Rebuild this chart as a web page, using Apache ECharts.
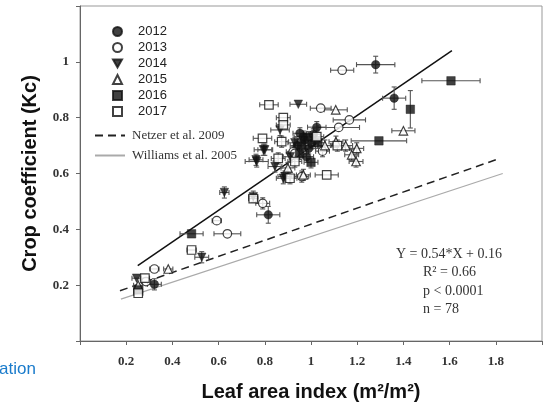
<!DOCTYPE html>
<html><head><meta charset="utf-8">
<script src="https://cdn.jsdelivr.net/npm/echarts@6/dist/echarts.min.js"></script>
<style>html,body{margin:0;padding:0;background:#fff}#c{width:546px;height:408px}</style>
</head><body><div id="c"></div>
<script>
// ---- data: [LAI, Kc, LAI error, Kc error] ----
const years = ['2012', '2013', '2014', '2015', '2016', '2017'];
const pts2012 = [[1.28,0.99,0.083,0.03],[1.36,0.87,0.05,0.04],[1.025,0.766,0.04,0.02],[0.815,0.452,0.05,0.03],[0.322,0.203,0.03,0.02],[0.967,0.732,0.04,0.02],[1.003,0.708,0.03,0.02],[0.952,0.744,0.03,0.02],[0.981,0.66,0.03,0.02],[0.99,0.69,0.03,0.02],[0.94,0.70,0.03,0.02],[0.97,0.72,0.03,0.02],[1.01,0.74,0.03,0.02]];
const pts2013 = [[1.135,0.97,0.05,0.01],[1.166,0.792,0.07,0.01],[1.12,0.765,0.09,0.01],[1.042,0.834,0.045,0.01],[0.592,0.431,0.02,0.01],[0.638,0.384,0.058,0.01],[0.791,0.493,0.03,0.02],[0.322,0.258,0.02,0.01],[0.286,0.213,0.02,0.01],[0.923,0.678,0.03,0.02],[0.96,0.589,0.03,0.02],[0.93,0.672,0.03,0.02],[1.05,0.68,0.03,0.02]];
const pts2014 = [[0.945,0.848,0.036,0.01],[0.625,0.532,0.02,0.02],[0.75,0.517,0.02,0.02],[0.762,0.649,0.03,0.02],[0.527,0.30,0.03,0.02],[0.245,0.225,0.02,0.01],[0.794,0.685,0.04,0.02],[0.765,0.643,0.05,0.02],[0.844,0.625,0.03,0.02],[0.88,0.583,0.03,0.02],[0.866,0.756,0.04,0.02],[0.80,0.685,0.03,0.02],[0.887,0.589,0.03,0.02],[0.93,0.71,0.03,0.02],[0.91,0.66,0.03,0.02]];
const pts2015 = [[1.40,0.753,0.05,0.01],[1.107,0.828,0.05,0.01],[1.198,0.69,0.03,0.02],[1.176,0.667,0.03,0.02],[1.195,0.643,0.03,0.02],[1.108,0.714,0.03,0.02],[0.382,0.258,0.02,0.01],[0.252,0.20,0.02,0.01],[0.967,0.595,0.03,0.02],[1.06,0.70,0.03,0.02],[1.15,0.70,0.03,0.02],[0.90,0.62,0.03,0.02]];
const pts2016 = [[1.606,0.932,0.126,0.01],[1.43,0.83,0.01,0.067],[1.294,0.717,0.12,0.01],[0.483,0.384,0.05,0.01],[0.252,0.183,0.02,0.01],[0.99,0.73,0.03,0.02],[0.96,0.70,0.03,0.02],[1.00,0.64,0.03,0.02],[0.95,0.67,0.03,0.02],[1.03,0.71,0.03,0.02]];
const pts2017 = [[0.818,0.846,0.04,0.01],[0.88,0.80,0.03,0.01],[0.88,0.774,0.03,0.01],[0.79,0.726,0.04,0.01],[1.068,0.595,0.05,0.01],[0.483,0.326,0.02,0.01],[0.281,0.225,0.02,0.01],[0.252,0.171,0.02,0.01],[0.858,0.654,0.03,0.02],[0.93,0.643,0.03,0.02],[0.909,0.583,0.03,0.02],[1.025,0.732,0.03,0.02],[1.114,0.70,0.03,0.02],[0.873,0.714,0.03,0.02],[0.75,0.51,0.02,0.01]];
// reference / regression lines (end points)
const regLine = [[0.25, 0.27], [1.61, 1.04]];
const netzerLine = [[0.173, 0.18], [1.81, 0.652]];
const williamsLine = [[0.177, 0.15], [1.83, 0.60]];
const xTickLabels = ['0.2', '0.4', '0.6', '0.8', '1', '1.2', '1.4', '1.6', '1.8'];
const yTickLabels = ['0.2', '0.4', '0.6', '0.8', '1'];
const statsText = ['Y = 0.54*X + 0.16', 'R\u00b2 = 0.66', 'p < 0.0001', 'n = 78'];

const allPts = [pts2012, pts2013, pts2014, pts2015, pts2016, pts2017];
const symbols = ['circle', 'circle', 'path://M0,0L10,0L5,9Z', 'triangle', 'rect', 'rect'];
const filled = [true, false, true, false, true, false];

const serif = 'Liberation Serif';
const sans = 'Liberation Sans';

function renderErr(params, api) {
  const x = api.value(0), y = api.value(1), xe = api.value(2), ye = api.value(3);
  const c = api.coord([x, y]);
  const l = api.coord([x - xe, y]), r = api.coord([x + xe, y]);
  const t = api.coord([x, y + ye]), b = api.coord([x, y - ye]);
  const cap = 2.5;
  const st = { stroke: '#555', lineWidth: 1.1 };
  const ch = [];
  if (r[0] - l[0] > 8) {
    ch.push({ type: 'line', shape: { x1: l[0], y1: c[1], x2: r[0], y2: c[1] }, style: st });
    ch.push({ type: 'line', shape: { x1: l[0], y1: c[1] - cap, x2: l[0], y2: c[1] + cap }, style: st });
    ch.push({ type: 'line', shape: { x1: r[0], y1: c[1] - cap, x2: r[0], y2: c[1] + cap }, style: st });
  }
  if (b[1] - t[1] > 8) {
    ch.push({ type: 'line', shape: { x1: c[0], y1: t[1], x2: c[0], y2: b[1] }, style: st });
    ch.push({ type: 'line', shape: { x1: c[0] - cap, y1: t[1], x2: c[0] + cap, y2: t[1] }, style: st });
    ch.push({ type: 'line', shape: { x1: c[0] - cap, y1: b[1], x2: c[0] + cap, y2: b[1] }, style: st });
  }
  return { type: 'group', children: ch };
}

const series = [];
series.push({
  name: 'errors', type: 'custom', renderItem: renderErr, silent: true, z: 2,
  encode: { x: 0, y: 1 }, data: [].concat(...allPts)
});
years.forEach((yr, i) => {
  series.push({
    name: yr, type: 'scatter', z: 3, symbol: symbols[i], symbolSize: 8.5,
    data: allPts[i].map(p => [p[0], p[1]]),
    itemStyle: filled[i] ? { color: '#111', borderColor: '#111', borderWidth: 0.5 }
                         : { color: '#fff', borderColor: '#111', borderWidth: 1.2 }
  });
});
series.push({ name: 'fit', type: 'line', data: regLine, symbol: 'none', z: 1, silent: true,
  lineStyle: { color: '#111', width: 1.5 } });
series.push({ name: 'Netzer et al. 2009', type: 'line', data: netzerLine, symbol: 'none', showSymbol: false, z: 1, silent: true,
  itemStyle: { color: '#222' }, lineStyle: { color: '#222', width: 1.5, type: [8, 5] } });
series.push({ name: 'Williams et al. 2005', type: 'line', data: williamsLine, symbol: 'none', showSymbol: false, z: 1, silent: true,
  itemStyle: { color: '#aaa' }, lineStyle: { color: '#aaa', width: 1.2 } });

const chart = echarts.init(document.getElementById('c'), null, { renderer: 'canvas' });
chart.setOption({
  animation: false,
  backgroundColor: '#fff',
  grid: { left: 80, right: 4, top: 6, bottom: 67, show: true, borderColor: '#999', borderWidth: 1 },
  xAxis: {
    type: 'value', min: 0, max: 2, interval: 0.2,
    name: 'Leaf area index (m\u00b2/m\u00b2)', nameLocation: 'middle', nameGap: 41,
    nameTextStyle: { fontFamily: sans, fontWeight: 'bold', fontSize: 20, color: '#111' },
    axisLine: { lineStyle: { color: '#666' } },
    axisTick: { show: true, length: 4, lineStyle: { color: '#666' } },
    splitLine: { show: false },
    axisLabel: {
      margin: 14, fontFamily: serif, fontWeight: 'bold', fontSize: 13, color: '#333',
      formatter: v => { const s = String(+v.toFixed(1)); return xTickLabels.includes(s) ? s : ''; }
    }
  },
  yAxis: {
    type: 'value', min: 0, max: 1.2, interval: 0.2,
    name: 'Crop coefficient (Kc)', nameLocation: 'middle', nameGap: 40,
    nameTextStyle: { fontFamily: sans, fontWeight: 'bold', fontSize: 20, color: '#111' },
    axisLine: { show: true, lineStyle: { color: '#666' } },
    axisTick: { show: true, length: 4, lineStyle: { color: '#666' } },
    splitLine: { show: false },
    axisLabel: {
      margin: 11, fontFamily: serif, fontWeight: 'bold', fontSize: 13, color: '#333',
      formatter: v => { const s = String(+v.toFixed(1)); return yTickLabels.includes(s) ? s : ''; }
    }
  },
  legend: [{
    data: years, orient: 'vertical', left: 107, top: 20, itemWidth: 9, itemHeight: 9, itemGap: 3,
    textStyle: { fontFamily: sans, fontSize: 13, color: '#222', padding: [0, 0, 0, 11] }, selectedMode: false
  }, {
    data: ['Netzer et al. 2009', 'Williams et al. 2005'], orient: 'vertical', left: 89, top: 124,
    itemWidth: 30, itemHeight: 12, itemGap: 7,
    itemStyle: { opacity: 0 },
    textStyle: { fontFamily: serif, fontSize: 13, color: '#333', padding: [0, 0, 0, 2] }, selectedMode: false
  }],
  graphic: [
    { type: 'text', left: 396, top: 247, style: { text: statsText[0], font: '14px "Liberation Serif"', fill: '#333' } },
    { type: 'text', left: 423, top: 265, style: { text: statsText[1], font: '14px "Liberation Serif"', fill: '#333' } },
    { type: 'text', left: 423, top: 284, style: { text: statsText[2], font: '14px "Liberation Serif"', fill: '#333' } },
    { type: 'text', left: 423, top: 302, style: { text: statsText[3], font: '14px "Liberation Serif"', fill: '#333' } },
    { type: 'text', left: -1, top: 361, style: { text: 'ation', font: '17px "Liberation Sans"', fill: '#1a7bcb' } }
  ],
  series: series
});
</script></body></html>
